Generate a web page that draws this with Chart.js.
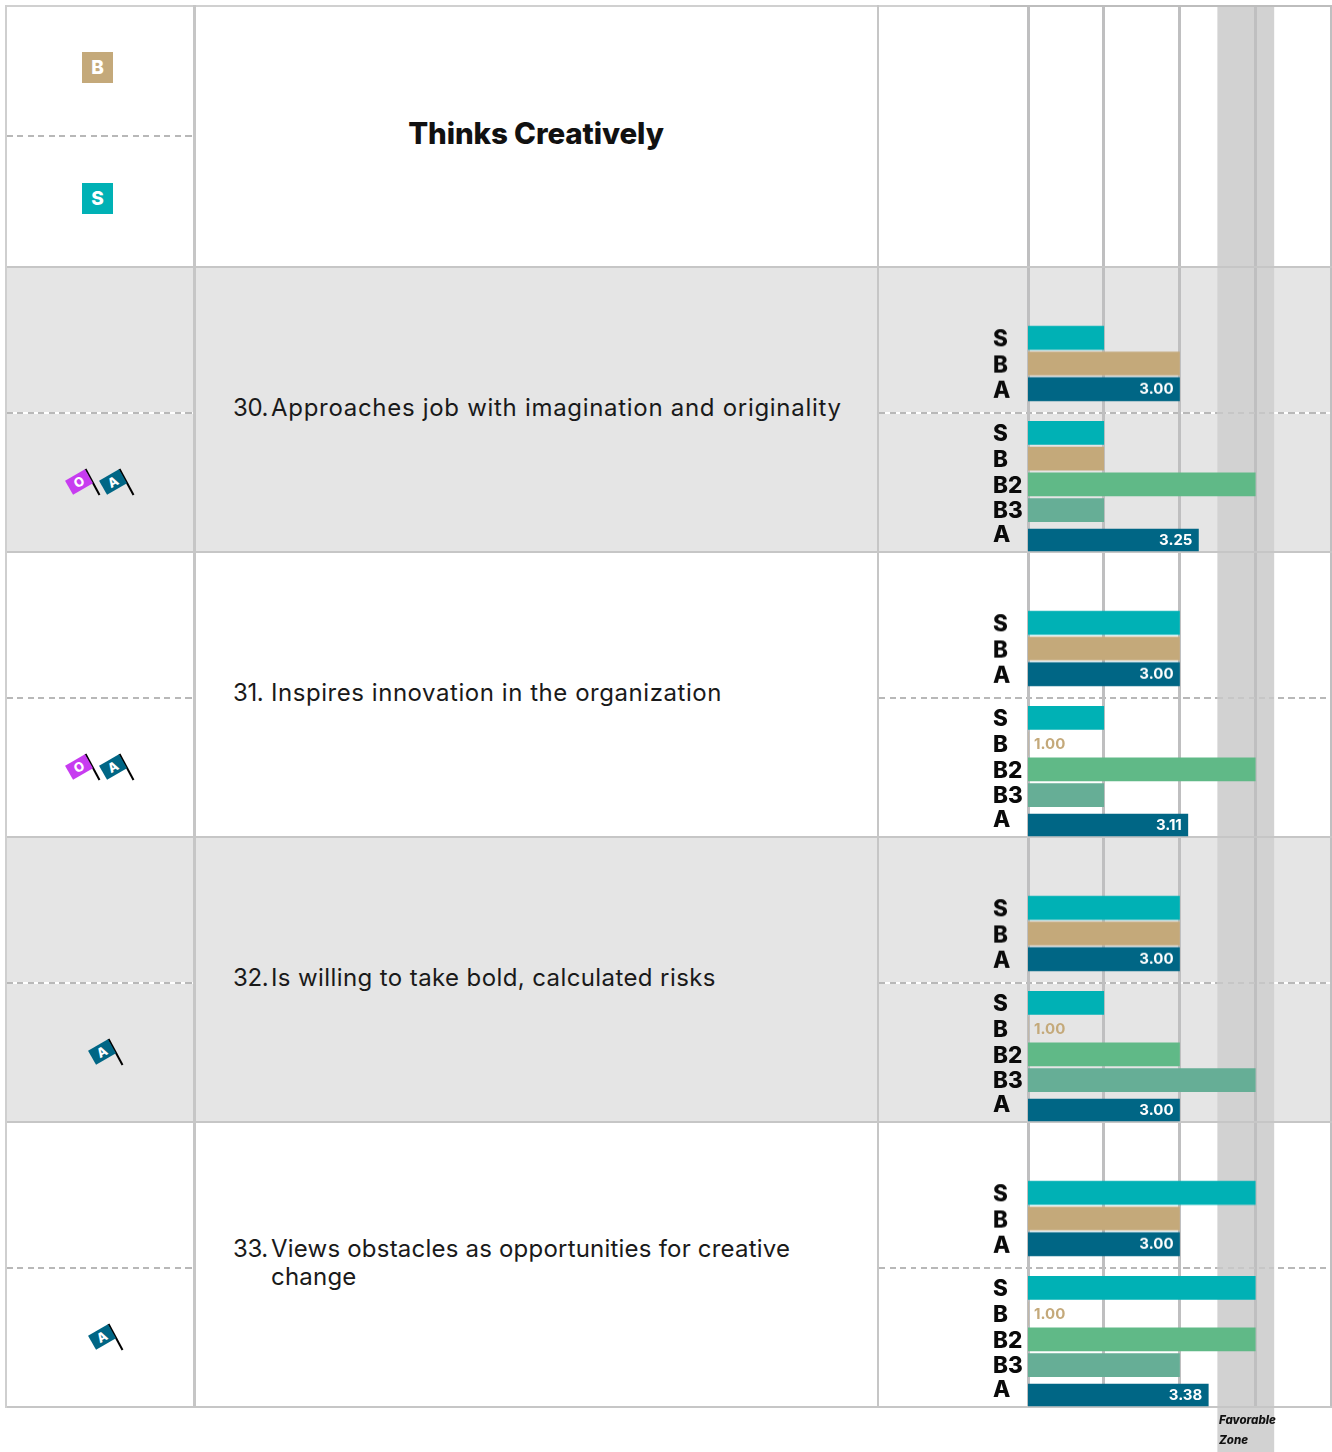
<!DOCTYPE html>
<html>
<head>
<meta charset="utf-8">
<script src="https://cdn.jsdelivr.net/npm/chart.js@4"></script>
<style>
html,body{margin:0;padding:0;background:#fff}
body{position:relative;width:1332px;height:1452px;overflow:hidden;font-family:Inter,sans-serif;color:#111}
.abs{position:absolute}
canvas{position:absolute}
.stmt{position:absolute;left:233px;width:640px;font-size:24px;line-height:28px;color:#1a1a1a}
.stmt b{position:absolute;left:0;font-weight:400;letter-spacing:-.4px}
.stmt span{display:block;margin-left:38px}
</style>
</head>
<body>
<script>
// ---- content ----
const title = 'Thinks Creatively';
const itemNumbers = ['30.', '31.', '32.', '33.'];
const itemTexts = [
  'Approaches job with imagination and originality',
  'Inspires innovation in the organization',
  'Is willing to take bold, calculated risks',
  'Views obstacles as opportunities for creative<br>change'
];
const itemFlags = [['O', 'A'], ['O', 'A'], ['A'], ['A']];
const upperLabels = ['S', 'B', 'A'];
const lowerLabels = ['S', 'B', 'B2', 'B3'];
const bottomLabel = ['A'];
const upperS = [2, 3, 3, 4];
const upperB = [3, 3, 3, 3];
const upperA = [3, 3, 3, 3];
const lowerS = [2, 2, 2, 4];
const lowerB = [2, 1, 1, 1];
const lowerB2 = [4, 4, 3, 4];
const lowerB3 = [2, 2, 4, 3];
const lowerA = [3.25, 3.11, 3.00, 3.38];
const axisTicks = [1, 2, 3, 4, 5];
const favorableZone = [3.5, 4.25];
const barColors = {S: '#00b1b5', B: '#c4a97a', B2: '#60b987', B3: '#66ae96', A: '#006685'};
const flagColors = {O: '#c73cf0', A: '#006685'};
const itemSpacing = [0.70, 0.55, 0.40, 0.21];

// ---- table frame ----
const LINE = '#c6c6c6', GRID = '#bfbfc0';
function box(l, t, w, h, css) {
  const d = document.createElement('div');
  d.className = 'abs';
  d.style.cssText = `left:${l}px;top:${t}px;width:${w}px;height:${h}px;${css || ''}`;
  document.body.appendChild(d);
  return d;
}
const ROW0 = 267, ROWH = 285;
function dashed(l, t, w, base, ink) {
  box(l, t, w, 2, `background:repeating-linear-gradient(90deg,${ink || '#b8b8b8'} 0 6px,${base} 6px 10.5px)`);
}
for (let r = 0; r < 4; r++) {
  if (r % 2 === 0) box(6, ROW0 + r * ROWH, 1325, ROWH, 'background:#e5e5e5');
}
dashed(7, 135, 187, '#fff');
for (let r = 0; r < 4; r++) {
  const y = ROW0 + r * ROWH + 145;
  dashed(7, y, 187, '#fff');
  dashed(879, y, 452, '#fff');
}

// ---- shared axis ----
function xAxis(showGrid) {
  return {
    type: 'linear', display: showGrid, min: axisTicks[0], max: axisTicks[axisTicks.length - 1],
    afterBuildTicks: s => { s.ticks = axisTicks.map(v => ({value: v})); },
    ticks: {display: false},
    border: {display: false},
    grid: {display: showGrid, color: GRID, lineWidth: 3, drawTicks: false}
  };
}
function makeCanvas(l, t, w, h) {
  const c = document.createElement('canvas');
  c.width = w; c.height = h;
  c.style.cssText = `left:${l}px;top:${t}px;width:${w}px;height:${h}px`;
  document.body.appendChild(c);
  return c;
}

// backdrop: favorable zone and vertical grid lines
const zonePlugin = {
  id: 'zone',
  beforeDraw(chart) {
    const x = chart.scales.x, ctx = chart.ctx;
    const a = x.getPixelForValue(favorableZone[0]), b = x.getPixelForValue(favorableZone[1]);
    ctx.save();
    ctx.fillStyle = '#d2d2d2';
    ctx.fillRect(a, chart.chartArea.top, b - a, chart.height - chart.chartArea.top);
    ctx.restore();
  }
};
new Chart(makeCanvas(993, 0, 340, 1452), {
  type: 'bar',
  data: {labels: [], datasets: []},
  plugins: [zonePlugin],
  options: {
    indexAxis: 'y', responsive: false, animation: false, devicePixelRatio: 1,
    layout: {padding: {left: 35, right: 2, top: 7, bottom: 45}},
    plugins: {legend: {display: false}, tooltip: {enabled: false}},
    scales: {x: xAxis(true), y: {display: false}}
  }
});

// row rules above the backdrop
box(5, 4.5, 985, 2, 'background:#d0d0d0');
box(990, 4.5, 342, 2, 'background:#bdbdbd');
for (let r = 0; r <= 4; r++) {
  box(5, ROW0 + r * ROWH - 1, 1327, 2, 'background:' + LINE);
}
for (let r = 0; r < 4; r++) {
  dashed(1217, ROW0 + r * ROWH + 145, 57, 'transparent', '#c6c6c6');
}
box(5, 5, 2, 1403, 'background:#cfcfcf');
box(193, 5, 2.5, 1403, 'background:' + LINE);
box(876.5, 5, 2.5, 1403, 'background:' + LINE);

// ---- bars ----
const valuePlugin = {
  id: 'values',
  afterDatasetsDraw(chart) {
    const ctx = chart.ctx, ds = chart.data.datasets[0], x = chart.scales.x;
    ctx.save();
    ctx.font = '700 15px Inter, sans-serif';
    ctx.textBaseline = 'middle';
    chart.getDatasetMeta(0).data.forEach((bar, i) => {
      const v = ds.data[i], lab = chart.data.labels[i], text = v.toFixed(2);
      if (lab === 'A') {
        ctx.fillStyle = '#fff';
        ctx.textAlign = 'right';
        ctx.fillText(text, bar.x - 6, bar.y + 0.5);
      } else if (v === axisTicks[0]) {
        ctx.fillStyle = barColors.B;
        ctx.textAlign = 'left';
        ctx.fillText(text, x.getPixelForValue(v) + 6, bar.y + 0.5);
      }
    });
    ctx.restore();
  }
};
function block(top, height, labels, values, thickness, labelOffset) {
  const pad = 10;
  new Chart(makeCanvas(993, top - pad, 338, height + 2 * pad), {
    type: 'bar',
    data: {
      labels,
      datasets: [{
        data: values,
        backgroundColor: labels.map(l => barColors[l]),
        borderWidth: 0,
        barThickness: thickness
      }]
    },
    plugins: [valuePlugin],
    options: {
      indexAxis: 'y', responsive: false, animation: false, devicePixelRatio: 1,
      layout: {padding: {top: pad, bottom: pad}},
      plugins: {legend: {display: false}, tooltip: {enabled: false}},
      scales: {
        x: xAxis(false),
        y: {
          afterFit: s => { s.width = 35; s.paddingTop = 0; s.paddingBottom = 0; },
          border: {display: false},
          grid: {display: false},
          ticks: {
            crossAlign: 'far', padding: 0, labelOffset,
            color: '#0a0a0a', autoSkip: false,
            font: {family: 'Inter, sans-serif', weight: 800, size: 22.5}
          }
        }
      }
    }
  });
}
itemTexts.forEach((_, r) => {
  const t = ROW0 + r * ROWH;
  block(t + 58, 76.5, upperLabels, [upperS[r], upperB[r], upperA[r]], 23, 2);
  block(t + 152.7, 103, lowerLabels, [lowerS[r], lowerB[r], lowerB2[r], lowerB3[r]], 23, 1.5);
  block(t + 260, 26, bottomLabel, [lowerA[r]], 22, -5);
});

// ---- text ----
const head = box(236, 112, 600, 42, 'text-align:center;font-weight:800;font-size:29.5px;line-height:42px;color:#111;letter-spacing:-.1px');
head.textContent = title;
[['B', 52], ['S', 183]].forEach(([k, y]) => {
  const s = box(82, y, 31, 31, `background:${barColors[k]};color:#fff;font-weight:800;font-size:19px;line-height:31px;text-align:center`);
  s.textContent = k;
});
itemTexts.forEach((txt, r) => {
  const rowTop = ROW0 + r * ROWH;
  const d = document.createElement('div');
  d.className = 'stmt';
  const lineTop = r === 3 ? rowTop + 113 : rowTop + 127;
  d.style.top = lineTop + 'px';
  d.style.letterSpacing = itemSpacing[r] + 'px';
  d.innerHTML = `<b>${itemNumbers[r]}</b><span>${txt}</span>`;
  document.body.appendChild(d);
});

// flags
const NS = 'http://www.w3.org/2000/svg';
function flag(letter, cx, cy) {
  const svg = document.createElementNS(NS, 'svg');
  svg.setAttribute('width', 60); svg.setAttribute('height', 50);
  svg.style.cssText = `position:absolute;left:${cx - 25}px;top:${cy - 25}px;overflow:visible`;
  svg.innerHTML =
    `<line x1="31.5" y1="12" x2="45.5" y2="38" stroke="#000" stroke-width="2"/>` +
    `<g transform="translate(25 25) rotate(-30)">` +
    `<rect x="-11.5" y="-8" width="23" height="16" fill="${flagColors[letter]}"/>` +
    `<text x="0" y="4.6" text-anchor="middle" fill="#fff" font-family="Inter, sans-serif" font-weight="800" font-size="13">${letter}</text></g>`;
  document.body.appendChild(svg);
}
itemFlags.forEach((fl, r) => {
  const y = ROW0 + r * ROWH + 215;
  if (fl.length === 2) { flag(fl[0], 79, y); flag(fl[1], 113, y); }
  else flag(fl[0], 102, y);
});

// zone caption
const cap = box(1219, 1411, 90, 40, 'font-style:italic;font-weight:800;font-size:11.5px;line-height:19.5px;color:#111');
cap.innerHTML = 'Favorable<br>Zone';
</script>
</body>
</html>
